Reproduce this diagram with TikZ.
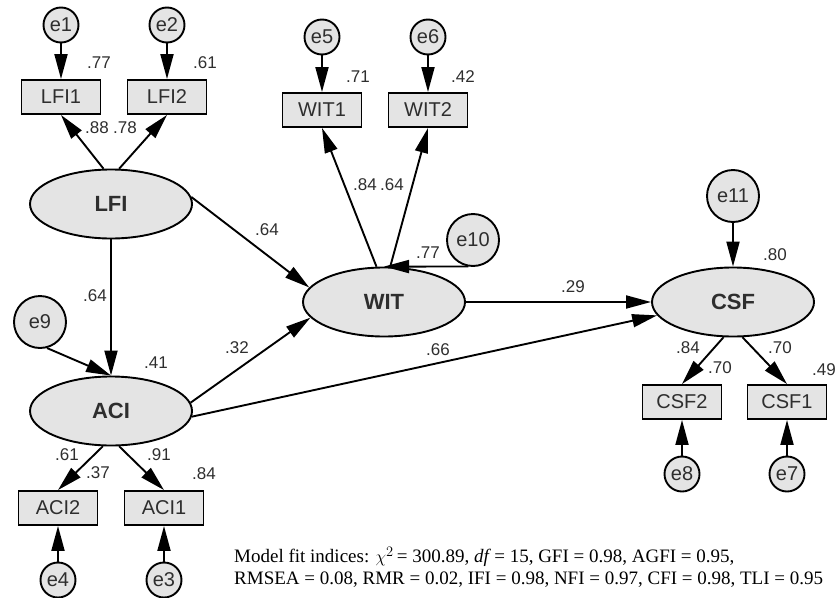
\documentclass[tikz,border=0pt]{standalone}
\usepackage{fontspec}
\setmainfont{Liberation Sans}
\newfontfamily\capfont{Liberation Serif}
\usetikzlibrary{arrows.meta,shapes.geometric}
\definecolor{nodefill}{HTML}{E4E4E4}
\definecolor{txt}{HTML}{2E2E2E}
\tikzset{
  every picture/.style={x=1pt,y=-1pt},
  latent/.style={ellipse,draw,line width=1.9pt,fill=nodefill,minimum width=162pt,minimum height=69pt,
    inner sep=0pt,font=\fontsize{22}{22}\selectfont\bfseries,text=txt},
  observed/.style={rectangle,draw,line width=1.9pt,fill=nodefill,minimum width=79pt,minimum height=34pt,
    inner sep=0pt,font=\fontsize{20}{20}\selectfont,text=txt},
  err/.style={circle,draw,line width=1.9pt,fill=nodefill,minimum size=#1,inner sep=0pt,
    font=\fontsize{20}{20}\selectfont,text=txt},
  err/.default=35pt,
  arrowpath/.style={draw,line width=1.9pt,-{Triangle[length=25pt,width=13pt]}},
  coef/.style={font=\fontsize{17}{17}\selectfont,text=txt,inner sep=0pt},
}
\begin{document}
\begin{tikzpicture}
\useasboundingbox (0,0) rectangle (837,597);
% latent variables
\node[latent] (LFI) at (111,204) {LFI};
\node[latent] (ACI) at (111,411) {ACI};
\node[latent] (WIT) at (384,302) {WIT};
\node[latent] (CSF) at (733,302) {CSF};
% indicators
\node[observed] (LFI1) at (61,97) {LFI1};
\node[observed] (LFI2) at (167,97) {LFI2};
\node[observed] (WIT1) at (322,110) {WIT1};
\node[observed] (WIT2) at (428,110) {WIT2};
\node[observed] (ACI2) at (58,508) {ACI2};
\node[observed] (ACI1) at (164,508) {ACI1};
\node[observed] (CSF2) at (682,402) {CSF2};
\node[observed] (CSF1) at (787,402) {CSF1};
% error terms
\node[err] (e1) at (61,25) {e1};
\node[err] (e2) at (167,25) {e2};
\node[err] (e5) at (322,37) {e5};
\node[err] (e6) at (428,37) {e6};
\node[err] (e4) at (58,580) {e4};
\node[err] (e3) at (164,580) {e3};
\node[err] (e8) at (682,474) {e8};
\node[err] (e7) at (787,474) {e7};
\node[err=52pt] (e9) at (40,322) {e9};
\node[err=52pt] (e10) at (473,240) {e10};
\node[err=52pt] (e11) at (733,196) {e11};
% error paths
\draw[arrowpath] (e1) -- (LFI1);
\draw[arrowpath] (e2) -- (LFI2);
\draw[arrowpath] (e5) -- (WIT1);
\draw[arrowpath] (e6) -- (WIT2);
\draw[arrowpath] (e4) -- (ACI2);
\draw[arrowpath] (e3) -- (ACI1);
\draw[arrowpath] (e8) -- (CSF2);
\draw[arrowpath] (e7) -- (CSF1);
\draw[arrowpath] (e11) -- (CSF);
\draw[arrowpath] (e9.-75) -- (ACI.north);
\draw[arrowpath] (e10.-100) -- (WIT.north);
% loadings
\draw[arrowpath] (LFI.102) -- (LFI1.south);
\draw[arrowpath] (LFI.77) -- (LFI2.south);
\draw[arrowpath] (WIT.102) -- (WIT1.south);
\draw[arrowpath] (WIT.80) -- (WIT2.south);
\draw[arrowpath] (ACI.257) -- (ACI2.north);
\draw[arrowpath] (ACI.283) -- (ACI1.north);
\draw[arrowpath] (CSF.255) -- (CSF2.north);
\draw[arrowpath] (CSF.285) -- (CSF1.north);
% structural paths
\draw[arrowpath] (LFI.5) -- (WIT.169);
\draw[arrowpath] (LFI.south) -- (ACI.north);
\draw[arrowpath] (ACI.6) -- (WIT.192);
\draw[arrowpath] (ACI.-4) -- (CSF.190);
\draw[arrowpath] (WIT.east) -- (CSF.west);
% coefficients
\node[coef] at (99,63) {.77};
\node[coef] at (205,63) {.61};
\node[coef] at (97,128) {.88};
\node[coef] at (125,128) {.78};
\node[coef] at (358,77) {.71};
\node[coef] at (463,77) {.42};
\node[coef] at (365,185) {.84};
\node[coef] at (392,185) {.64};
\node[coef] at (428,253) {.77};
\node[coef] at (267,230) {.64};
\node[coef] at (95,296) {.64};
\node[coef] at (156,363) {.41};
\node[coef] at (237,348) {.32};
\node[coef] at (438,350) {.66};
\node[coef] at (573,287) {.29};
\node[coef] at (775,255) {.80};
\node[coef] at (688,348) {.84};
\node[coef] at (720,368) {.70};
\node[coef] at (780,348) {.70};
\node[coef,anchor=east] at (836,370) {.49};
\node[coef] at (67,455) {.61};
\node[coef] at (98,473) {.37};
\node[coef] at (159,455) {.91};
\node[coef] at (204,474) {.84};
% fit indices
\node[anchor=west,align=left,inner sep=0pt,font=\capfont\fontsize{19}{22}\selectfont] (fit) at (234,567)
  {Model fit indices: $\chi^2$\,= 300.89, \textit{df}\,= 15, GFI = 0.98, AGFI = 0.95,\\
   RMSEA = 0.08, RMR = 0.02, IFI = 0.98, NFI = 0.97, CFI = 0.98, TLI = 0.95};
\end{tikzpicture}
\end{document}
